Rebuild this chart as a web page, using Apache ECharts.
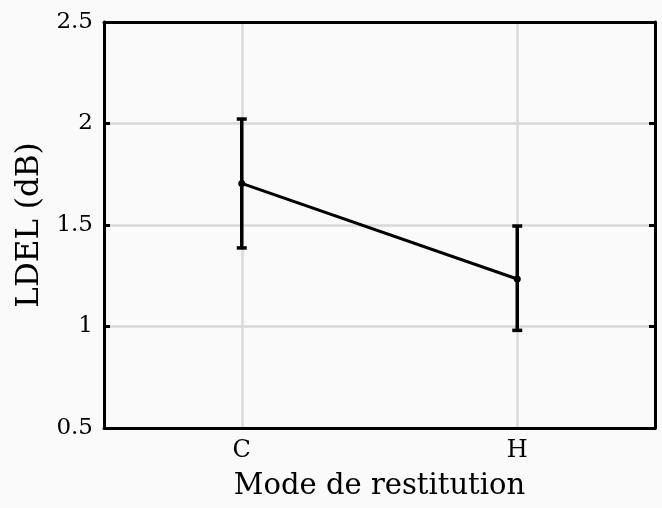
<!DOCTYPE html>
<html>
<head>
<meta charset="utf-8">
<script src="https://cdn.jsdelivr.net/npm/echarts@6/dist/echarts.min.js"></script>
<style>
  html, body { margin: 0; padding: 0; background: #fafafa; }
  #chart { width: 662px; height: 508px; }
</style>
</head>
<body>
<div id="chart"></div>
<script>
// mode de restitution
const categories = ['C', 'H']
// moyennes LDEL (dB)
const means = [1.705, 1.234]
// bornes des barres d'erreur
const lower = [1.387, 0.981]
const upper = [2.022, 1.495]
const yTicks = [0.5, 1, 1.5, 2, 2.5]

const font = 'DejaVu Serif'
const myChart = echarts.init(document.getElementById('chart'))

const errData = categories.map((c, i) => [i, lower[i], upper[i]])

const option = {
  backgroundColor: '#fafafa',
  animation: false,
  grid: {
    left: 104,
    right: 7,
    top: 22,
    bottom: 80
  },
  xAxis: [
    {
      type: 'category',
      data: categories,
      boundaryGap: true,
      position: 'bottom',
      name: 'Mode de restitution',
      nameLocation: 'middle',
      nameGap: 44,
      nameTextStyle: { fontFamily: font, fontSize: 29, color: '#000' },
      axisLine: { lineStyle: { color: '#000', width: 3 } },
      axisTick: { inside: true, alignWithLabel: true, length: 6, lineStyle: { color: '#000', width: 3 } },
      axisLabel: { margin: 11, fontFamily: font, fontSize: 24, color: '#000' },
      splitLine: { show: true, alignWithLabel: true, lineStyle: { color: '#d9d9d9', width: 2.5 } }
    },
    {
      type: 'category',
      data: categories,
      boundaryGap: true,
      position: 'top',
      axisLine: { lineStyle: { color: '#000', width: 3 } },
      axisTick: { inside: true, alignWithLabel: true, length: 6, lineStyle: { color: '#000', width: 3 } },
      axisLabel: { show: false },
      splitLine: { show: false }
    }
  ],
  yAxis: [
    {
      type: 'value',
      min: yTicks[0],
      max: yTicks[yTicks.length - 1],
      interval: 0.5,
      position: 'left',
      name: 'LDEL (dB)',
      nameLocation: 'middle',
      nameGap: 57,
      nameTextStyle: { fontFamily: font, fontSize: 31, color: '#000' },
      axisLine: { show: true, lineStyle: { color: '#000', width: 3 } },
      axisTick: { show: true, inside: true, length: 6, lineStyle: { color: '#000', width: 3 } },
      axisLabel: { margin: 11, fontFamily: font, fontSize: 23, color: '#000' },
      splitLine: { show: true, lineStyle: { color: '#d9d9d9', width: 2.5 } }
    },
    {
      type: 'value',
      min: yTicks[0],
      max: yTicks[yTicks.length - 1],
      interval: 0.5,
      position: 'right',
      axisLine: { show: true, lineStyle: { color: '#000', width: 3 } },
      axisTick: { show: true, inside: true, length: 6, lineStyle: { color: '#000', width: 3 } },
      axisLabel: { show: false },
      splitLine: { show: false }
    }
  ],
  series: [
    {
      name: 'erreur',
      type: 'custom',
      xAxisIndex: 0,
      yAxisIndex: 0,
      data: errData,
      encode: { x: 0, y: [1, 2] },
      z: 3,
      renderItem: function (params, api) {
        const x = api.value(0)
        const lo = api.coord([x, api.value(1)])
        const hi = api.coord([x, api.value(2)])
        const hw = 5
        const style = { stroke: '#000', lineWidth: 3.5 }
        return {
          type: 'group',
          children: [
            { type: 'line', shape: { x1: hi[0], y1: hi[1], x2: lo[0], y2: lo[1] }, style: style },
            { type: 'line', shape: { x1: hi[0] - hw, y1: hi[1], x2: hi[0] + hw, y2: hi[1] }, style: style },
            { type: 'line', shape: { x1: lo[0] - hw, y1: lo[1], x2: lo[0] + hw, y2: lo[1] }, style: style }
          ]
        }
      }
    },
    {
      name: 'LDEL',
      type: 'line',
      xAxisIndex: 0,
      yAxisIndex: 0,
      data: means,
      z: 4,
      symbol: 'circle',
      symbolSize: 7,
      itemStyle: { color: '#000' },
      lineStyle: { color: '#000', width: 3 }
    }
  ]
}
option && myChart.setOption(option)
</script>
</body>
</html>
